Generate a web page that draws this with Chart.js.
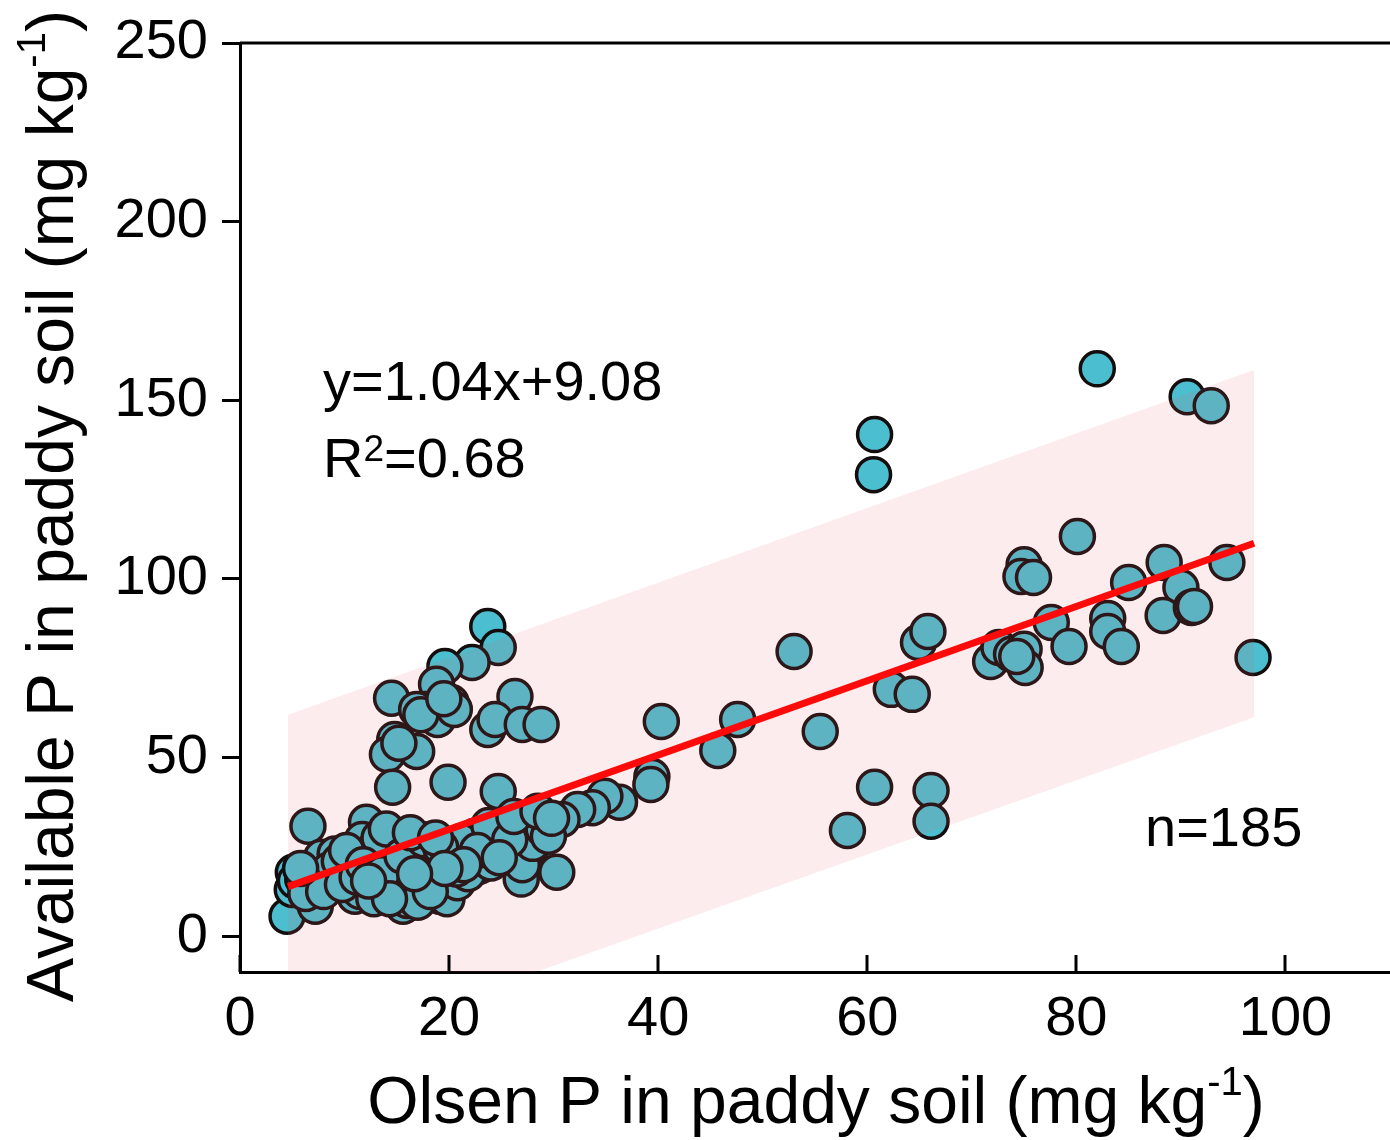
<!DOCTYPE html>
<html>
<head>
<meta charset="utf-8">
<script src="https://cdn.jsdelivr.net/npm/chart.js@4.4.1/dist/chart.umd.min.js"></script>
<style>
  html, body { margin: 0; padding: 0; background: #fff; }
  #wrap { width: 1390px; height: 1140px; }
</style>
</head>
<body>
<div id="wrap"><canvas id="chart" width="1390" height="1140"></canvas></div>
<script>
// Olsen P (x) vs available P (y)
const olsenP = [
  82.0, 90.6, 92.9, 60.7, 60.6, 80.1, 75.0, 74.7, 75.9, 85.0,
  88.4, 90.0, 88.3, 91.0, 91.3, 94.4, 96.9, 77.6, 79.3, 83.0,
  83.0, 84.3, 71.8, 72.6, 73.8, 75.0, 75.1, 74.3, 53.0, 40.3,
  47.6, 45.7, 55.5, 64.9, 65.8, 62.3, 64.3, 39.4, 39.3, 36.3,
  34.9, 60.7, 58.1, 66.1, 66.1, 33.7, 32.3, 30.8, 30.3,
  23.7, 24.7, 22.2, 19.6, 18.8, 14.5, 17.7, 16.9, 18.9, 20.2,
  20.5, 26.3, 23.7, 24.4, 27.0, 28.8, 14.8, 14.1, 16.9, 14.6,
  19.9, 24.7, 6.5, 17.3, 19.5, 15.2,
  4.5, 5.1, 5.0, 5.3, 7.2, 7.4, 7.8, 9.1, 9.3, 11.0,
  10.5, 12.1, 11.7, 12.4, 13.1, 14.6, 15.6, 15.6, 15.9, 17.2,
  16.9, 18.4, 19.1, 19.4, 20.3, 21.0, 22.3, 22.9, 24.2, 25.3,
  26.9, 27.7, 27.9, 28.7,
  10.0, 10.8, 11.5, 12.0, 12.5, 13.0, 13.5, 13.8, 14.2, 14.5,
  14.8, 15.0, 15.3, 15.8, 16.2, 16.5, 16.8, 17.5, 17.8, 18.0,
  18.5, 18.8, 19.0, 19.5, 19.8, 20.0, 20.5, 20.8, 21.5, 21.8,
  22.0, 22.5, 23.0, 23.5, 24.0, 24.5, 25.0, 26.0, 26.5, 27.0,
  27.5, 28.0, 29.0, 29.5, 8.5, 9.5, 6.0, 6.3, 8.0, 9.8,
  11.2, 12.8, 13.3, 14.0, 16.0, 17.0, 18.2, 21.2, 23.8, 25.8,
  5.8, 10.2, 11.8, 13.6, 15.5, 17.6, 19.2, 20.7, 22.7, 24.8,
  26.2, 28.5, 29.8, 16.3, 18.7, 14.3, 12.3, 21.4, 19.6, 16.7
];
const availableP = [
  158.8, 151.0, 148.5, 140.4, 129.2, 111.9, 104.0, 100.7, 100.4, 99.0,
  104.6, 97.6, 89.8, 92.0, 92.3, 104.6, 78.0, 87.8, 81.1, 88.9,
  85.3, 81.1, 76.9, 80.8, 78.9, 80.3, 75.2, 78.3, 79.7, 60.1,
  60.7, 52.0, 57.3, 82.2, 85.3, 69.1, 67.7, 44.7, 42.5, 37.5,
  39.2, 41.7, 29.6, 40.8, 32.2, 36.0, 35.5, 32.7, 17.9,
  86.7, 80.8, 76.6, 75.5, 70.5, 66.6, 63.5, 63.5, 60.7, 65.4,
  63.5, 67.1, 57.9, 60.7, 59.3, 59.3, 55.1, 50.9, 51.7, 41.7,
  43.1, 40.5, 30.8, 62.0, 66.5, 54.0,
  5.6, 17.9, 13.1, 15.5, 8.4, 13.1, 22.1, 23.0, 16.0, 11.2,
  18.7, 31.9, 27.1, 22.4, 16.0, 27.1, 13.1, 8.4, 27.7, 22.4,
  16.0, 21.5, 11.2, 17.9, 23.0, 19.6, 25.2, 19.6, 29.9, 25.7,
  16.0, 28.0, 24.9, 31.9,
  20.0, 14.0, 12.5, 18.0, 14.5, 25.0, 20.5, 12.0, 18.5, 23.5,
  15.0, 20.0, 25.0, 18.0, 21.0, 12.0, 25.5, 18.5, 14.0, 24.0,
  16.5, 20.5, 13.5, 22.0, 10.5, 17.0, 21.0, 15.0, 23.0, 17.5,
  21.5, 28.0, 22.5, 26.0, 20.5, 28.5, 24.0, 22.0, 29.0, 20.0,
  33.0, 26.0, 30.0, 28.0, 18.5, 21.0, 16.0, 12.0, 12.5, 14.5,
  16.5, 10.5, 27.5, 30.0, 10.0, 9.5, 12.5, 26.5, 31.0, 27.0,
  19.0, 24.0, 20.0, 17.5, 22.5, 27.0, 24.8, 18.8, 24.0, 22.0,
  33.5, 35.0, 33.0, 29.0, 27.5, 10.5, 15.5, 20.0, 19.0, 17.5
];

// regression line and prediction band end points
const fitX = [4.6, 97.0];
const fitY = [13.9, 110.0];
const bandX = [4.6, 97.0];
const bandUpper = [62.0, 158.5];
const bandLower = [-34.6, 61.3];

const xTicks = [0, 20, 40, 60, 80, 100];
const yTicks = [0, 50, 100, 150, 200, 250];

const FONT = '"Liberation Sans", Arial, Helvetica, sans-serif';

const points = olsenP.map((x, i) => ({ x: x, y: availableP[i] }));
const fitLine = fitX.map((x, i) => ({ x: x, y: fitY[i] }));
const upper = bandX.map((x, i) => ({ x: x, y: bandUpper[i] }));
const lower = bandX.map((x, i) => ({ x: x, y: bandLower[i] }));

// draw text made of normal and superscript pieces
function richWidth(ctx, parts) {
  let w = 0;
  parts.forEach(p => {
    ctx.font = p.size + 'px ' + FONT;
    w += ctx.measureText(p.t).width;
  });
  return w;
}
function drawRich(ctx, parts, x, y) {
  let cx = x;
  parts.forEach(p => {
    ctx.font = p.size + 'px ' + FONT;
    ctx.fillText(p.t, cx, y - (p.up || 0));
    cx += ctx.measureText(p.t).width;
  });
}

const extras = {
  id: 'extras',
  afterDraw(chart) {
    const ctx = chart.ctx;
    const area = chart.chartArea;
    const xs = chart.scales.x;
    ctx.save();

    // top frame line
    ctx.strokeStyle = '#000';
    ctx.lineWidth = 3;
    ctx.beginPath();
    ctx.moveTo(area.left, area.top);
    ctx.lineTo(area.right, area.top);
    ctx.stroke();

    // x ticks point inward
    xTicks.forEach(v => {
      const px = Math.round(xs.getPixelForValue(v));
      ctx.beginPath();
      ctx.moveTo(px, area.bottom);
      ctx.lineTo(px, area.bottom - 17);
      ctx.stroke();
    });

    ctx.fillStyle = '#000';
    ctx.textBaseline = 'alphabetic';
    ctx.textAlign = 'left';

    // equation and stats
    drawRich(ctx, [{ t: 'y=1.04x+9.08', size: 56 }], 323, 400);
    drawRich(ctx, [
      { t: 'R', size: 56 },
      { t: '2', size: 37, up: 16 },
      { t: '=0.68', size: 56 }
    ], 323, 477);
    drawRich(ctx, [{ t: 'n=185', size: 56 }], 1145, 846);

    // axis titles
    const xTitle = [
      { t: 'Olsen P in paddy soil (mg kg', size: 66 },
      { t: '-1', size: 40, up: 28 },
      { t: ')', size: 66 }
    ];
    const xw = richWidth(ctx, xTitle);
    drawRich(ctx, xTitle, 816 - xw / 2, 1123);

    const yTitle = [
      { t: 'Available P in paddy soil (mg kg', size: 66 },
      { t: '-1', size: 40, up: 28 },
      { t: ')', size: 66 }
    ];
    const yw = richWidth(ctx, yTitle);
    ctx.translate(73, 506);
    ctx.rotate(-Math.PI / 2);
    drawRich(ctx, yTitle, -yw / 2, 0);

    ctx.restore();
  }
};

new Chart(document.getElementById('chart'), {
  type: 'scatter',
  data: {
    datasets: [
      {
        label: 'fit',
        type: 'line',
        data: fitLine,
        borderColor: '#ff0a0a',
        borderWidth: 7,
        pointRadius: 0,
        fill: false,
        order: 1
      },
      {
        label: 'upper',
        type: 'line',
        data: upper,
        borderWidth: 0,
        borderColor: 'rgba(0,0,0,0)',
        pointRadius: 0,
        backgroundColor: 'rgba(229,97,104,0.12)',
        fill: '+1',
        order: 2
      },
      {
        label: 'lower',
        type: 'line',
        data: lower,
        borderWidth: 0,
        borderColor: 'rgba(0,0,0,0)',
        pointRadius: 0,
        fill: false,
        order: 2
      },
      {
        label: 'samples',
        data: points,
        backgroundColor: '#4bbfcf',
        borderColor: '#140d0d',
        borderWidth: 3.5,
        pointRadius: 17,
        pointHoverRadius: 17,
        order: 3
      }
    ]
  },
  options: {
    responsive: false,
    animation: false,
    events: [],
    layout: { autoPadding: false, padding: { top: 43, right: 0, left: 0, bottom: 0 } },
    plugins: {
      legend: { display: false },
      tooltip: { enabled: false }
    },
    scales: {
      x: {
        type: 'linear',
        min: 0,
        max: 110,
        afterBuildTicks: s => { s.ticks = xTicks.map(v => ({ value: v })); },
        afterFit: s => {
          s.height = 168;
          s.paddingLeft = 0; s.paddingRight = 0;
          s.paddingTop = 0; s.paddingBottom = 0;
        },
        grid: { display: false, drawTicks: false },
        border: { display: true, color: '#000', width: 3 },
        ticks: {
          color: '#000',
          padding: 14,
          maxRotation: 0,
          font: { family: FONT, size: 56 }
        }
      },
      y: {
        type: 'linear',
        min: -10,
        max: 250,
        afterBuildTicks: s => { s.ticks = yTicks.map(v => ({ value: v })); },
        afterFit: s => {
          s.width = 240;
          s.paddingLeft = 0; s.paddingRight = 0;
          s.paddingTop = 0; s.paddingBottom = 0;
        },
        grid: {
          display: true,
          drawOnChartArea: false,
          drawTicks: true,
          tickLength: 18,
          tickWidth: 3,
          tickColor: '#000'
        },
        border: { display: true, color: '#000', width: 3 },
        ticks: {
          color: '#000',
          padding: 14,
          font: { family: FONT, size: 56 }
        }
      }
    }
  },
  plugins: [extras]
});
</script>
</body>
</html>
